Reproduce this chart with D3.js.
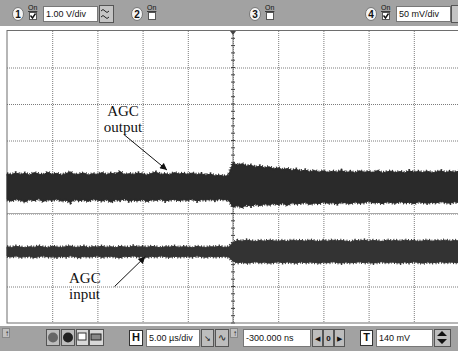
<!DOCTYPE html>
<html><head><meta charset="utf-8">
<script src="https://cdn.jsdelivr.net/npm/d3@7"></script>
<style>html,body{margin:0;padding:0;background:#fff;overflow:hidden}</style>
</head><body><svg id="c" width="458" height="351"></svg>
<script>
// ---- Data (time in µs, amplitude in screen divisions) ----
const timeRange = [-25, 25];          // 10 div x 5.00 µs/div
const divRange = [-4, 4];             // 8 vertical divisions
const sampleStep = 0.5;               // µs between envelope samples
const outUpper = [0.09,0.06,0.11,0.07,0.10,0.05,0.12,0.08,0.06,0.13,
0.07,0.10,0.05,0.09,0.14,0.06,0.08,0.11,0.05,0.09,
0.07,0.12,0.06,0.10,0.08,0.15,0.06,0.09,0.07,0.11,
0.08,0.05,0.10,0.13,0.07,0.09,0.06,0.12,0.08,0.10,
0.07,0.11,0.06,0.09,0.05,0.08,0.03,0.05,0.02,0.04,
0.38,0.33,0.36,0.30,0.32,0.27,0.30,0.25,0.28,0.22,
0.25,0.20,0.23,0.18,0.21,0.16,0.19,0.14,0.18,0.13,
0.17,0.12,0.16,0.13,0.18,0.12,0.15,0.11,0.17,0.13,
0.15,0.12,0.18,0.11,0.14,0.16,0.12,0.15,0.11,0.17,
0.13,0.15,0.12,0.16,0.11,0.14,0.17,0.12,0.15,0.13,0.16];
const outLower = [-0.62,-0.66,-0.60,-0.64,-0.68,-0.61,-0.65,-0.59,-0.67,-0.62,
-0.64,-0.60,-0.66,-0.63,-0.70,-0.61,-0.65,-0.62,-0.67,-0.60,
-0.63,-0.66,-0.61,-0.69,-0.62,-0.64,-0.60,-0.66,-0.63,-0.65,
-0.61,-0.67,-0.62,-0.64,-0.60,-0.66,-0.63,-0.61,-0.65,-0.62,
-0.64,-0.60,-0.66,-0.62,-0.63,-0.61,-0.64,-0.60,-0.62,-0.63,
-0.82,-0.78,-0.84,-0.76,-0.80,-0.74,-0.79,-0.73,-0.77,-0.72,
-0.76,-0.71,-0.78,-0.70,-0.74,-0.72,-0.69,-0.75,-0.71,-0.73,
-0.68,-0.72,-0.70,-0.74,-0.69,-0.71,-0.73,-0.68,-0.72,-0.70,
-0.66,-0.71,-0.69,-0.73,-0.68,-0.70,-0.72,-0.67,-0.71,-0.69,
-0.73,-0.68,-0.70,-0.72,-0.69,-0.71,-0.67,-0.70,-0.72,-0.68,-0.70];
const inUpper = [-1.91,-1.93,-1.90,-1.92,-1.94,-1.91,-1.93,-1.89,-1.92,-1.94,
-1.90,-1.92,-1.93,-1.91,-1.89,-1.93,-1.92,-1.90,-1.94,-1.91,
-1.92,-1.90,-1.93,-1.91,-1.94,-1.90,-1.92,-1.93,-1.89,-1.92,
-1.91,-1.93,-1.90,-1.92,-1.94,-1.91,-1.92,-1.90,-1.93,-1.91,
-1.92,-1.94,-1.90,-1.92,-1.93,-1.91,-1.92,-1.90,-1.93,-1.92,
-1.80,-1.74,-1.76,-1.73,-1.75,-1.77,-1.74,-1.76,-1.73,-1.75,
-1.76,-1.74,-1.77,-1.73,-1.75,-1.74,-1.76,-1.73,-1.75,-1.77,
-1.74,-1.76,-1.73,-1.75,-1.74,-1.76,-1.78,-1.74,-1.75,-1.73,
-1.76,-1.74,-1.75,-1.77,-1.73,-1.75,-1.74,-1.76,-1.73,-1.75,
-1.74,-1.77,-1.75,-1.73,-1.76,-1.74,-1.75,-1.73,-1.76,-1.74,-1.75];
const inLower = [-2.17,-2.19,-2.16,-2.20,-2.18,-2.17,-2.21,-2.18,-2.16,-2.19,
-2.18,-2.20,-2.17,-2.19,-2.16,-2.18,-2.21,-2.17,-2.19,-2.18,
-2.16,-2.20,-2.18,-2.17,-2.19,-2.21,-2.17,-2.18,-2.16,-2.19,
-2.18,-2.20,-2.17,-2.19,-2.16,-2.18,-2.20,-2.17,-2.19,-2.18,
-2.17,-2.19,-2.16,-2.18,-2.20,-2.17,-2.19,-2.18,-2.17,-2.19,
-2.30,-2.35,-2.33,-2.36,-2.34,-2.32,-2.35,-2.33,-2.36,-2.34,
-2.32,-2.35,-2.33,-2.34,-2.36,-2.32,-2.35,-2.33,-2.34,-2.36,
-2.33,-2.35,-2.32,-2.34,-2.36,-2.33,-2.35,-2.34,-2.32,-2.35,
-2.33,-2.36,-2.34,-2.32,-2.35,-2.33,-2.34,-2.36,-2.33,-2.35,
-2.32,-2.34,-2.36,-2.33,-2.35,-2.34,-2.32,-2.35,-2.33,-2.34,-2.35];
const gridTimes = [-20,-15,-10,-5,0,5,10,15,20];
const gridDivs = [-3,-2,-1,0,1,2,3];
const labels = [
  {lines:["AGC","output"], x:123, y:116, anchor:"middle", from:[-12.05, 1.16], to:[-7.3, 0.19]},
  {lines:["AGC","input"], x:69, y:283, anchor:"start", from:[-13.1, -3.0], to:[-9.7, -2.18]}
];
const channels = [{n:"1", on:true, vdiv:"1.00 V/div"},{n:"2", on:false},{n:"3", on:false},{n:"4", on:true, vdiv:"50 mV/div"}];
const timebase = "5.00 \u00b5s/div", delay = "-300.000 ns", trigLevel = "140 mV";

// ---- Drawing ----
const svg = d3.select("#c");
const x = d3.scaleLinear().domain(timeRange).range([7, 459]);
const y = d3.scaleLinear().domain(divRange).range([323, 31]);
const times = outUpper.map((_, i) => timeRange[0] + i * sampleStep);

svg.append("rect").attr("width",458).attr("height",351).attr("fill","#fff");

// grid
const g = svg.append("g");
g.append("g").attr("transform","translate(0,31)")
  .call(d3.axisBottom(x).tickValues(gridTimes).tickSize(292).tickFormat(""))
  .call(a=>a.select(".domain").remove())
  .selectAll("line").attr("stroke","#7c7c7c").attr("stroke-dasharray","1,1");
g.append("g").attr("transform","translate(7,0)")
  .call(d3.axisRight(y).tickValues(gridDivs).tickSize(452).tickFormat(""))
  .call(a=>a.select(".domain").remove())
  .selectAll("line").attr("stroke","#7c7c7c").attr("stroke-dasharray","1,1");
// reference line (solid)
g.append("line").attr("x1",7).attr("x2",459).attr("y1",y(-1)).attr("y2",y(-1)).attr("stroke","#a8a8a8");
// center vertical with minor ticks
g.append("line").attr("x1",x(0)).attr("x2",x(0)).attr("y1",31).attr("y2",323).attr("stroke","#777");
const minor = d3.range(divRange[0], divRange[1]+0.001, 0.2);
g.selectAll(".mt").data(minor).join("line").attr("x1",x(0)-2).attr("x2",x(0)+2)
  .attr("y1",d=>y(d)).attr("y2",d=>y(d)).attr("stroke","#444");
// border
svg.append("rect").attr("x",7).attr("y",30.5).attr("width",452).attr("height",292.5)
  .attr("fill","none").attr("stroke","#6e6e6e");

// traces
function band(up, lo, col){
  const area = d3.area().x((d,i)=>x(times[i])).y0((d,i)=>y(lo[i])).y1(d=>y(d));
  svg.append("path").datum(up).attr("d",area).attr("fill",col).attr("stroke",col).attr("stroke-width",1);
  [up, lo].forEach(arr=>{
    const ln = d3.line().x((d,i)=>x(times[i])).y(d=>y(d));
    svg.append("path").datum(arr).attr("d",ln).attr("fill","none").attr("stroke",col)
      .attr("stroke-width",3.5).attr("stroke-dasharray","1,1.6,1,2.4");
  });
}
band(outUpper, outLower, "#2a2a2a");
band(inUpper, inLower, "#333");
// trigger marker
svg.append("path").attr("d",`M${x(0)-3},31 L${x(0)+3},31 L${x(0)},35 Z`).attr("fill","#444");

// annotations
svg.append("defs").append("marker").attr("id","ah").attr("viewBox","0 0 10 10").attr("refX",10).attr("refY",5)
  .attr("markerWidth",9).attr("markerHeight",7).attr("markerUnits","userSpaceOnUse").attr("orient","auto")
  .append("path").attr("d","M0,0 L10,5 L0,10 Z").attr("fill","#111");
labels.forEach(l=>{
  const t = svg.append("text").attr("font-family","'Liberation Serif','Times New Roman',serif")
    .attr("font-size",15).attr("fill","#111").attr("text-anchor",l.anchor);
  l.lines.forEach((s,i)=>t.append("tspan").attr("x",l.x).attr("y",l.y+i*15.5).text(s));
  svg.append("line").attr("x1",x(l.from[0])).attr("y1",y(l.from[1])).attr("x2",x(l.to[0])).attr("y2",y(l.to[1]))
    .attr("stroke","#111").attr("stroke-width",1).attr("marker-end","url(#ah)");
});

// ---- toolbars ----
const F = "'Liberation Sans',Arial,sans-serif";
svg.append("rect").attr("x",0).attr("y",0).attr("width",458).attr("height",26).attr("fill","#a2a2a2");
svg.append("rect").attr("x",0).attr("y",326).attr("width",458).attr("height",25).attr("fill","#a2a2a2");
function box(x0,y0,w,h,fill,txt,opt={}){
  svg.append("rect").attr("x",x0+0.5).attr("y",y0+0.5).attr("width",w).attr("height",h).attr("fill",fill)
    .attr("stroke",opt.stroke||"#555").attr("stroke-width",opt.sw||1);
  if(txt!==undefined) svg.append("text").attr("x",opt.center? x0+w/2+0.5 : x0+3).attr("y",y0+h/2+3.5)
    .attr("text-anchor",opt.center?"middle":"start").attr("font-family",F).attr("font-size",opt.fs||9)
    .attr("font-weight",opt.bold?"bold":"normal").attr("fill","#111").text(txt);
}
const chX = [18, 137, 255, 371];
channels.forEach((c,i)=>{
  const cx = chX[i];
  svg.append("ellipse").attr("cx",cx).attr("cy",14).attr("rx",5.5).attr("ry",6.5).attr("fill","#f4f4f4").attr("stroke","#777");
  svg.append("text").attr("x",cx).attr("y",18).attr("text-anchor","middle").attr("font-family",F)
    .attr("font-size",10).attr("font-weight","bold").attr("fill","#111").text(c.n);
  svg.append("text").attr("x",cx+10).attr("y",10).attr("font-family",F).attr("font-size",7).attr("fill","#111")
    .attr("text-decoration","underline").text("On");
  box(cx+11, 12, 7, 7, "#fff");
  if(c.on) svg.append("path").attr("d",`M${cx+12.5},15.5 L${cx+14.5},18 L${cx+17.5},13.5`).attr("fill","none").attr("stroke","#111").attr("stroke-width",1.4);
  if(c.vdiv) box(cx+25, 6, 54, 15, "#fff", c.vdiv, {stroke:"#777"});
});
// ch1 coupling button
box(99,5,14,17,"#c4c4c4");
svg.append("path").attr("d","M101,11 q2,-3 4,0 t4,0 M101,17 q2,-3 4,0 t4,0").attr("fill","none").attr("stroke","#222");
// ch4 spinner
box(451,5,8,17,"#c4c4c4");
// bottom
box(2,328,7,9,"#c0c0c0","\u2191",{fs:8,stroke:"#888"});
box(46,329,13,16,"#bdbdbd");
svg.append("circle").attr("cx",53).attr("cy",337.5).attr("r",5).attr("fill","#666");
box(61,329,13,16,"#bdbdbd");
svg.append("circle").attr("cx",68).attr("cy",337.5).attr("r",5).attr("fill","#222");
box(76,329,12,16,"#d8d8d8");
svg.append("rect").attr("x",78).attr("y",333).attr("width",8).attr("height",7).attr("fill","#fff").attr("stroke","#333");
box(89,329,14,16,"#d8d8d8");
svg.append("rect").attr("x",91).attr("y",334).attr("width",10).attr("height",6).attr("fill","#888").attr("stroke","#222");
box(129,330,13,15,"#fff","H",{center:true,bold:true,fs:11,stroke:"#333"});
box(146,329,53,17,"#fff",timebase,{stroke:"#777"});
box(201,329,12,17,"#bdbdbd","\u2198",{center:true,fs:8});
box(215,329,13,17,"#bdbdbd","\u223F",{center:true,fs:10});
box(230,328,7,9,"#c0c0c0","\u2191",{fs:8,stroke:"#888"});
box(243,329,67,17,"#fff",delay,{stroke:"#777"});
box(312,329,10,17,"#bdbdbd","\u25C0",{center:true,fs:7});
box(323,329,10,17,"#bdbdbd","0",{center:true,fs:8,bold:true});
box(334,329,10,17,"#bdbdbd","\u25B6",{center:true,fs:7});
box(360,330,12,15,"#fff","T",{center:true,bold:true,fs:11,stroke:"#333"});
box(376,329,56,17,"#fff",trigLevel,{stroke:"#777"});
box(434,329,16,17,"#bdbdbd");
svg.append("path").attr("d","M437,336 L442,331 L447,336 Z M437,339 L442,344 L447,339 Z").attr("fill","#111");
</script></body></html>
